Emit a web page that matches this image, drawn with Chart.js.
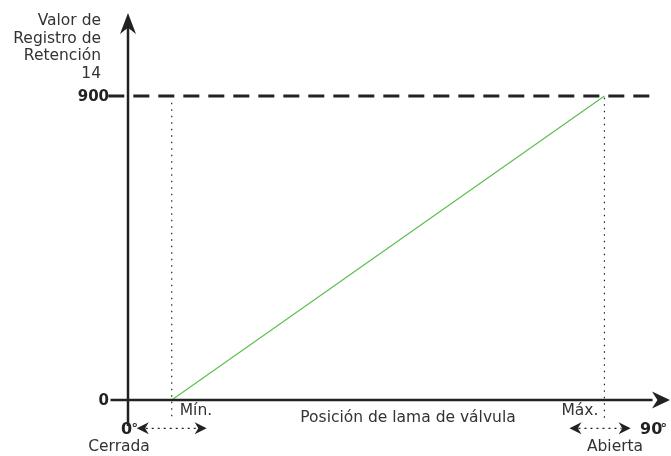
<!DOCTYPE html>
<html>
<head>
<meta charset="utf-8">
<script src="https://cdn.jsdelivr.net/npm/chart.js@4/dist/chart.umd.min.js"></script>
<style>
  html, body { margin: 0; padding: 0; background: #fff; }
  #wrap { width: 671px; height: 456px; }
</style>
</head>
<body>
<div id="wrap"><canvas id="valveChart"></canvas></div>
<script>
// posicion de lama (escala arbitraria 0..124) y valor de registro
var valvePos = [10, 109];
var registerVals = [0, 900];
var posLabels = ["Mín.", "Máx."];
var yTicks = [0, 900];
var endAngles = ["0", "90"];
var endNames = ["Cerrada", "Abierta"];
var yTitle = ["Valor de", "Registro de", "Retención", "14"];
var xTitle = "Posición de lama de válvula";

var xMin = 0, xMax = 124, yMin = 0, yMax = 1140;
var FONT = "'DejaVu Sans', Verdana, sans-serif";
var INK = "#222";

function arrowHead(ctx, tx, ty, dx, dy, len, half) {
    // punta tipo "stealth"
    var px = -dy, py = dx;
    ctx.beginPath();
    ctx.moveTo(tx, ty);
    ctx.lineTo(tx - dx * len + px * half, ty - dy * len + py * half);
    ctx.lineTo(tx - dx * len * 0.7, ty - dy * len * 0.7);
    ctx.lineTo(tx - dx * len - px * half, ty - dy * len - py * half);
    ctx.closePath();
    ctx.fill();
}

var decorPlugin = {
    id: "decor",
    afterDatasetsDraw(chart) {
        var ctx = chart.ctx, xs = chart.scales.x, ys = chart.scales.y;
        var x0 = xs.getPixelForValue(0), y0 = ys.getPixelForValue(0);
        ctx.save();
        ctx.fillStyle = INK;
        // flechas de los ejes
        arrowHead(ctx, x0, chart.chartArea.top - 2, 0, -1, 21, 8);
        arrowHead(ctx, chart.chartArea.right, y0, 1, 0, 18, 8.5);

        // flechas dobles punteadas
        var ya = ys.getPixelForValue(-84);
        [[2, 18], [101, 115]].forEach(function (r) {
            var a = xs.getPixelForValue(r[0]), b = xs.getPixelForValue(r[1]);
            ctx.strokeStyle = INK;
            ctx.lineWidth = 1.2;
            ctx.setLineDash([2, 4]);
            ctx.beginPath();
            ctx.moveTo(a + 9, ya);
            ctx.lineTo(b - 9, ya);
            ctx.stroke();
            ctx.setLineDash([]);
            arrowHead(ctx, a, ya, -1, 0, 12, 6);
            arrowHead(ctx, b, ya, 1, 0, 12, 6);
        });

        // textos
        ctx.fillStyle = "#333";
        ctx.textBaseline = "middle";
        ctx.font = "15.5px " + FONT;
        ctx.textAlign = "right";
        yTitle.forEach(function (t, i) { ctx.fillText(t, 101, 21 + i * 17.7); });

        ctx.font = "bold 15px " + FONT;
        ctx.fillStyle = INK;
        yTicks.forEach(function (v) { ctx.fillText(String(v), 109, ys.getPixelForValue(v) + 1); });

        ctx.fillStyle = "#333";
        ctx.font = "15.5px " + FONT;
        ctx.textAlign = "left";
        ctx.fillText(posLabels[0], xs.getPixelForValue(valvePos[0]) + 8, y0 + 11);
        ctx.textAlign = "right";
        ctx.fillText(posLabels[1], xs.getPixelForValue(valvePos[1]) - 6, y0 + 11);
        ctx.textAlign = "center";
        ctx.fillText(xTitle, 408, y0 + 18);

        // 0° / 90°
        ctx.fillStyle = INK;
        ctx.font = "bold 16px " + FONT;
        ctx.textAlign = "left";
        ctx.fillText(endAngles[0], 121, ya + 1);
        ctx.fillText(endAngles[1], 640, ya + 1);
        ctx.font = "bold 13px " + FONT;
        ctx.fillText("°", 131.5, ya);
        ctx.fillText("°", 660.5, ya);

        ctx.fillStyle = "#333";
        ctx.font = "15.5px " + FONT;
        ctx.textAlign = "center";
        ctx.fillText(endNames[0], 119, 447);
        ctx.fillText(endNames[1], 615, 447);
        ctx.restore();
    },
};

var ctx = document.getElementById("valveChart");
var myChart = new Chart(ctx, {
    type: "scatter",
    data: {
        datasets: [
            // ejes
            { data: [{ x: 0, y: -77 }, { x: 0, y: 1130 }], borderColor: INK, borderWidth: 2.5 },
            { data: [{ x: -4, y: 0 }, { x: 120, y: 0 }], borderColor: INK, borderWidth: 2.5 },
            // nivel 900
            { data: [{ x: -4.5, y: registerVals[1] }, { x: 121, y: registerVals[1] }], borderColor: INK, borderWidth: 3, borderDash: [16, 9] },
            // min / max
            { data: [{ x: valvePos[0], y: 880 }, { x: valvePos[0], y: -55 }], borderColor: INK, borderWidth: 1.2, borderDash: [1.5, 5] },
            { data: [{ x: valvePos[1], y: 895 }, { x: valvePos[1], y: -55 }], borderColor: INK, borderWidth: 1.2, borderDash: [1.5, 5] },
            // respuesta
            { data: [{ x: valvePos[0], y: registerVals[0] }, { x: valvePos[1], y: registerVals[1] }], borderColor: "#5cbf4f", borderWidth: 1.2 },
        ].map(function (d) {
            d.showLine = true;
            d.pointRadius = 0;
            d.clip = false;
            return d;
        }),
    },
    options: {
        responsive: true,
        maintainAspectRatio: false,
        animation: false,
        events: [],
        layout: { padding: { left: 128, top: 15, right: 1, bottom: 56 } },
        scales: {
            x: { type: "linear", min: xMin, max: xMax, display: false },
            y: { type: "linear", min: yMin, max: yMax, display: false },
        },
        plugins: { legend: { display: false }, tooltip: { enabled: false } },
    },
    plugins: [decorPlugin],
});
</script>
</body>
</html>
